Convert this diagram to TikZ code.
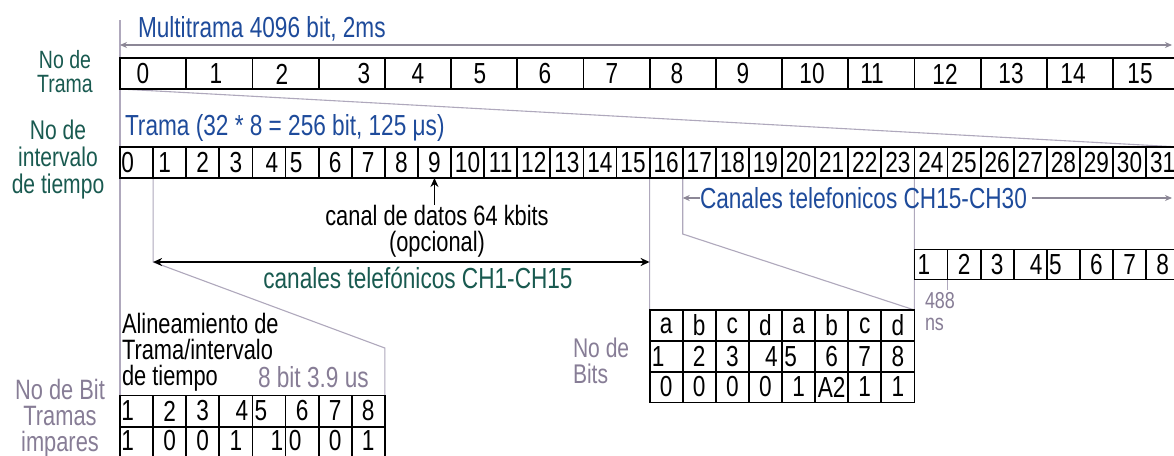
\documentclass[tikz,border=0pt]{standalone}
\usepackage{fontspec}
\setmainfont{Liberation Sans}[FakeStretch=0.78]
\usetikzlibrary{arrows.meta}
\pgfdeclarelayer{bg}
\pgfsetlayers{bg,main}
\definecolor{tblue}{RGB}{30,75,155}
\definecolor{tteal}{RGB}{25,90,80}
\definecolor{tgrey}{RGB}{135,125,150}
\definecolor{gline}{RGB}{175,168,188}
\definecolor{gdark}{RGB}{140,135,150}
\begin{document}
\begin{tikzpicture}[x=1pt,y=-1pt,
  every node/.style={inner sep=0pt, outer sep=0pt},
  font=\fontsize{29}{26}\selectfont,
  cellbox/.style={draw, line width=1.8pt, minimum width=33.1pt, minimum height=31pt},
  framebox/.style={cellbox, minimum width=66.2pt},
  guide/.style={draw=gline, line width=1.1pt},
  gtip/.style={-{Stealth[length=7pt,width=6pt]}},
  btip/.style={-{Stealth[length=9pt,width=8pt]}},
  bluetxt/.style={text=tblue},
  tealtxt/.style={text=tteal},
  greytxt/.style={text=tgrey}]
\useasboundingbox (0,0) rectangle (1174,455);

% ---------- frame row ----------
\foreach \k in {0,...,15} \node[framebox] (f\k) at ({153.1+66.2*\k},73.5) {};
\foreach \k/\x in {0/143,1/216,2/282,3/364,4/418,5/480,6/545,7/612,8/677,9/743,10/812,11/872,12/945,13/1011,14/1073,15/1140}
  \node (fl\k) at (\x,74) {\k};

% ---------- time slot row ----------
\foreach \k in {0,...,31} \node[cellbox] (s\k) at ({136.55+33.1*\k},162.5) {};
\foreach \k in {2,3,6,7,...,31} \node (sl\k) at (s\k) {\k};
\node (sl0) at ([xshift=-9pt]s0.center) {0};
\node (sl1) at ([xshift=-5pt]s1.center) {1};
\node (sl4) at ([xshift=3pt]s4.center) {4};
\node (sl5) at ([xshift=-6pt]s5.center) {5};

% ---------- odd frame bit table ----------
\foreach \k in {1,...,8} {
  \node[cellbox] (b\k) at ({103.45+33.1*\k},411) {};
  \node[cellbox] (c\k) at ({103.45+33.1*\k},443) {};
}
\foreach \k in {2,3,6,7,8} \node (bl\k) at (b\k) {\k};
\node (bl1) at ([xshift=-9pt]b1.center) {1};
\node (bl4) at ([xshift=6pt]b4.center) {4};
\node (bl5) at ([xshift=-8pt]b5.center) {5};
\foreach \k/\v/\dx in {1/1/-9,2/0/0,3/0/0,4/1/0,5/1/8,6/0/-7,7/0/0,8/1/0}
  \node (cl\k) at ([xshift=\dx pt, yshift=2pt]c\k.center) {\v};

% ---------- abcd table ----------
\foreach \k/\l/\v in {1/a/0,2/b/0,3/c/0,4/d/0,5/a/1,6/b/A2,7/c/1,8/d/1} {
  \node[cellbox] (ab\k) at ({633.05+33.1*\k},325.5) {};
  \node[cellbox] (n\k) at ({633.05+33.1*\k},356.5) {};
  \node[cellbox] (v\k) at ({633.05+33.1*\k},387) {};
  \node (abl\k) at (ab\k) {\l};
  \node (vl\k) at (v\k) {\v};
}
\foreach \k in {2,3,6,7,8} \node (nl\k) at (n\k) {\k};
\node (nl1) at ([xshift=-8pt]n1.center) {1};
\node (nl4) at ([xshift=6pt]n4.center) {4};
\node (nl5) at ([xshift=-8pt]n5.center) {5};

% ---------- right bit row ----------
\foreach \k in {1,...,8} \node[cellbox, minimum height=30pt] (r\k) at ({897.85+33.1*\k},264.5) {};
\foreach \k in {2,3,6,7,8} \node (rl\k) at (r\k) {\k};
\node (rl1) at ([xshift=-7pt]r1.center) {1};
\node (rl4) at ([xshift=6pt]r4.center) {4};
\node (rl5) at ([xshift=-8pt]r5.center) {5};

% ---------- texts ----------
\node[bluetxt, anchor=west] (mt) at (138,29) {Multitrama 4096 bit, 2ms};
\node[bluetxt, anchor=west] (tt) at (125,128) {Trama (32 * 8 = 256 bit, 125 μs)};
\node[tealtxt, align=center, font=\fontsize{25}{24}\selectfont] (lt) at (65,72) {No de\\Trama};
\node[tealtxt, align=center, font=\fontsize{27}{27}\selectfont] (li) at (58,160) {No de\\intervalo\\de tiempo};
\node[align=center, font=\fontsize{28}{26}\selectfont] (dc) at (437,231) {canal de datos 64 kbits\\(opcional)};
\node[text=tteal] (ct1) at (418,278) {canales telefónicos CH1-CH15};
\node[bluetxt, anchor=west] (ct2) at (700,198) {Canales telefonicos CH15-CH30};
\node[anchor=west, align=left, font=\fontsize{28}{26}\selectfont] (al) at (122,352) {Alineamiento de\\Trama/intervalo\\de tiempo};
\node[greytxt, anchor=west] (eb) at (258,377) {8 bit 3.9 us};
\node[greytxt, align=center, font=\fontsize{28}{26}\selectfont] (lb) at (60,418) {No de Bit\\Tramas\\impares};
\node[greytxt, anchor=west, align=left, font=\fontsize{27}{26}\selectfont] (nb) at (573,361) {No de\\Bits};
\node[greytxt, anchor=west, align=left, font=\fontsize{23}{22}\selectfont] (ns) at (925,312) {488\\ns};

% ---------- coordinates ----------
\coordinate (topL) at (120,20);
\coordinate (mL) at (120,45);
\coordinate (mR) at (1172,45);
\coordinate (aL) at (153.1,262);
\coordinate (aR) at (649.6,262);
\coordinate (k1) at (384.8,348);
\coordinate (k2) at (682.7,234);
\coordinate (tk) at (947.5,290);
\coordinate (cR) at (1172,198);

% ---------- guide lines ----------
\begin{pgfonlayer}{bg}
  \fill[white] (0,0) rectangle (1174,455);
  \draw[guide] (topL) -- (b1.north west);
  \draw[guide, draw=gdark, {Stealth[length=7pt,width=6pt]}-{Stealth[length=7pt,width=6pt]}] (mL) -- (mR);
  \draw[guide] (f0.south west) -- (s31.north east);
  \draw[guide] (s1.south west) -- (aL) -- (k1) -- (b8.north east);
  \draw[guide] (s16.south west) -- (ab1.north west);
  \draw[guide] (s17.south west) -- (k2) -- (ab8.north east);
  \draw[guide] (s24.south west) -- (ab8.north east);
  \draw[guide] (r1.south east) -- (tk);
  \draw[guide, draw=gdark, gtip] (ct2.west) -- (s17.south west |- ct2.west);
  \draw[guide, draw=gdark, gtip] ([xshift=5pt]ct2.east) -- (cR);
\end{pgfonlayer}

% ---------- black arrows ----------
\draw[line width=1.6pt, {Stealth[length=9pt,width=8pt]}-{Stealth[length=9pt,width=8pt]}] (aL) -- (aR);
\draw[line width=1.4pt, btip] (s9.south |- dc.north) -- (s9.south);
\end{tikzpicture}
\end{document}
